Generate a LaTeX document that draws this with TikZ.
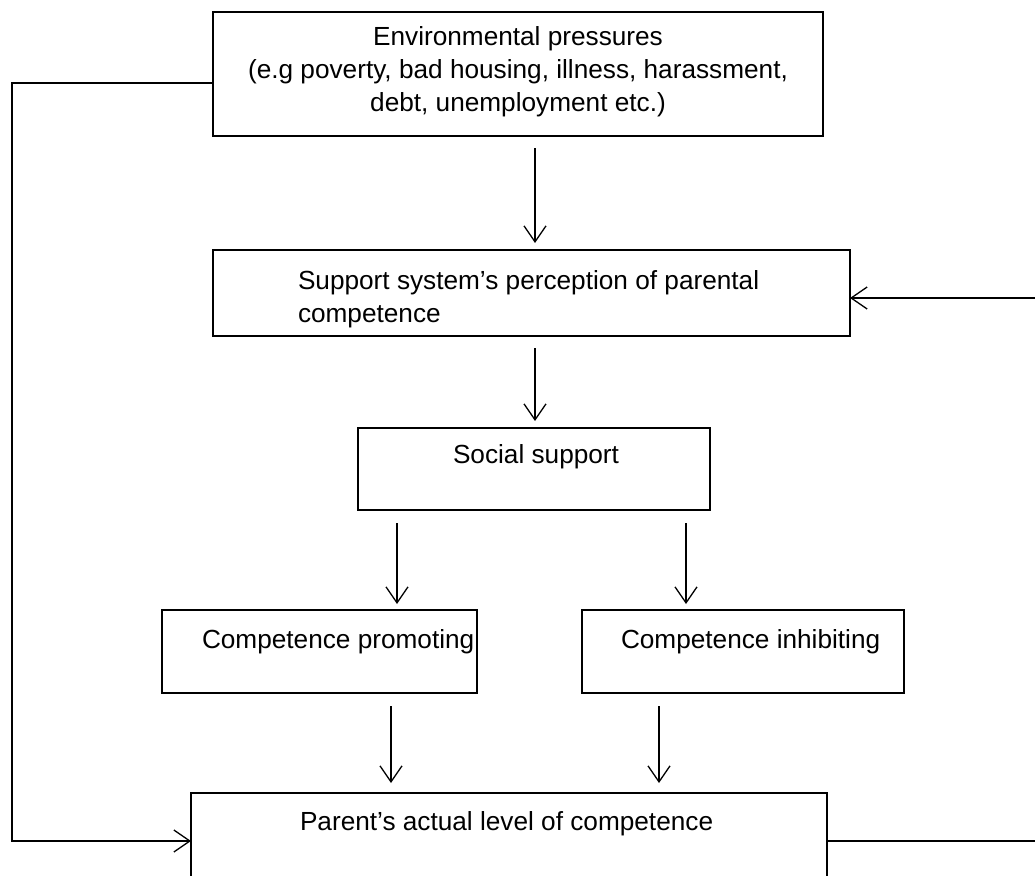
\documentclass[tikz,border=0pt]{standalone}
\usepackage{fontspec}
\setmainfont{Liberation Sans}
\usetikzlibrary{arrows.meta}
\begin{document}
\begin{tikzpicture}[x=1pt,y=-1pt,
  every node/.style={inner sep=0pt, outer sep=0pt},
  box/.style={draw, line width=1.3pt, line join=miter},
  txt/.style={font=\fontsize{26.2pt}{33pt}\selectfont},
  arr/.style={line width=1.3pt, -{Straight Barb[length=16pt,width=22pt,line width=1.3pt]}},
  link/.style={line width=1.3pt}]
\useasboundingbox (0,0) rectangle (1035,875);
\clip (0,0) rectangle (1035,875);

% boxes
\node[box, minimum width=610pt, minimum height=124pt] (env) at (518,74) {};
\node[box, minimum width=637pt, minimum height=86pt]  (sup) at (531.5,293) {};
\node[box, minimum width=352pt, minimum height=82pt]  (soc) at (534,469) {};
\node[box, minimum width=315pt, minimum height=83pt]  (pro) at (319.5,651.5) {};
\node[box, minimum width=322pt, minimum height=83pt]  (inh) at (743,651.5) {};
\node[box, minimum width=636pt, minimum height=120pt] (par) at (509,853) {};

% labels (multi-line labels sit on the baseline of their last line)
\node[txt, anchor=base, align=center] (envt) at (518,111)
  {Environmental pressures\\(e.g poverty, bad housing, illness, harassment,\\debt, unemployment etc.)};
\node[txt, anchor=base west, align=left] (supt) at (298,322)
  {Support system’s perception of parental\\competence};
\node[txt, anchor=base west] (soct) at (453,463) {Social support};
\node[txt, anchor=base west] (prot) at (202,648) {Competence promoting};
\node[txt, anchor=base west] (inht) at (621,648) {Competence inhibiting};
\node[txt, anchor=base west] (part) at (300,830) {Parent’s actual level of competence};

% vertical arrows
\draw[arr, shorten <=12pt, shorten >=7pt] ([xshift=17pt]env.south) -- ([xshift=3.5pt]sup.north);
\draw[arr, shorten <=12pt, shorten >=7pt] ([xshift=3.5pt]sup.south) -- ([xshift=1pt]soc.north);
\draw[arr, shorten <=13pt, shorten >=6pt] ([xshift=-137pt]soc.south) -- ([xshift=77.5pt]pro.north);
\draw[arr, shorten <=13pt, shorten >=6pt] ([xshift=152pt]soc.south) -- ([xshift=-57pt]inh.north);
\draw[arr, shorten <=13pt, shorten >=10pt] ([xshift=71.5pt]pro.south) -- ([xshift=-118pt]par.north);
\draw[arr, shorten <=13pt, shorten >=10pt] ([xshift=-84pt]inh.south) -- ([xshift=150pt]par.north);

% feedback loops
\coordinate (rtop) at (1035,298);
\coordinate (rbot) at (1035,841);
\draw[arr] ([yshift=-9pt]env.west) -- ++(-201pt,0) |- ([yshift=12pt]par.west);
\draw[arr] (rtop) -- ([yshift=-5pt]sup.east);
\draw[link] ([yshift=12pt]par.east) -- (rbot);
\end{tikzpicture}
\end{document}
